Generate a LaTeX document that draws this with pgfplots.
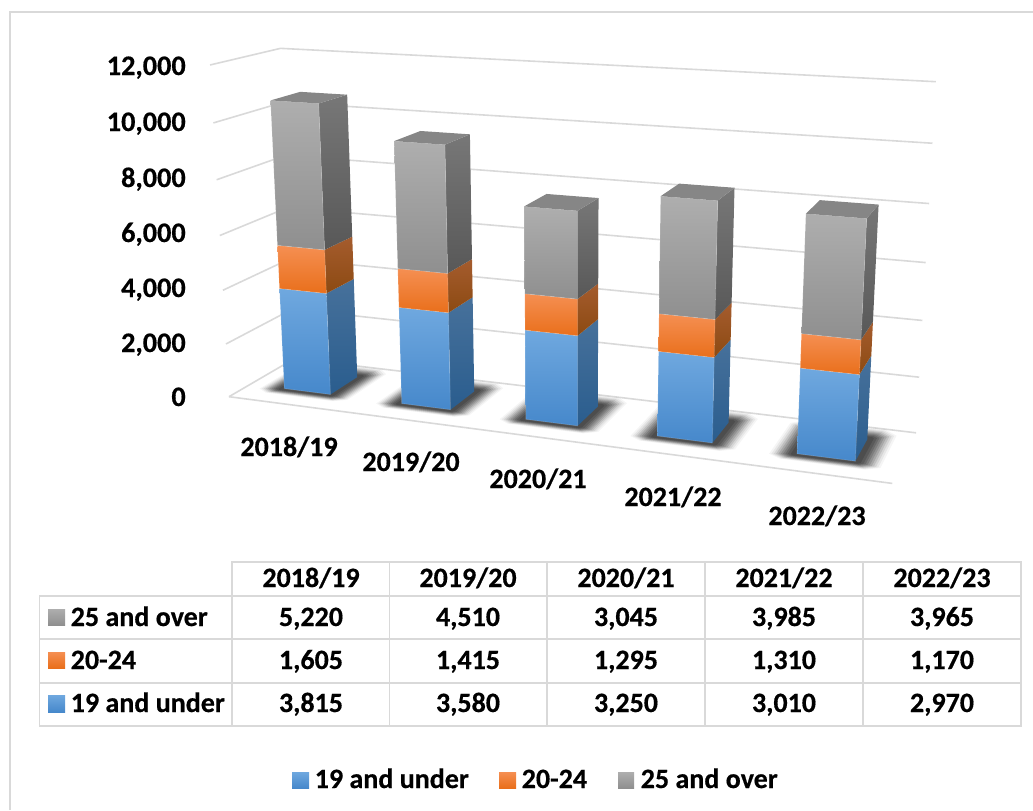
\documentclass[border=0pt]{standalone}
\usepackage{fontspec}
\setmainfont[BoldFeatures={FakeBold=0.5}]{Carlito}
\usepackage{pgfplots}
\pgfplotsset{compat=1.18}
\definecolor{gridc}{HTML}{D9D9D9}
\definecolor{bluetop}{HTML}{6FA8DF}\definecolor{bluemid}{HTML}{5598DA}\definecolor{bluebot}{HTML}{4688CB}
\definecolor{bluest}{HTML}{47719B}\definecolor{bluesb}{HTML}{2A5D8E}
\definecolor{orgtop}{HTML}{F58F52}\definecolor{orgmid}{HTML}{F57F27}\definecolor{orgbot}{HTML}{E96F1B}
\definecolor{orgst}{HTML}{A55C2E}\definecolor{orgsb}{HTML}{8C4A12}
\definecolor{grytop}{HTML}{AEAEAE}\definecolor{grymid}{HTML}{A2A2A2}\definecolor{grybot}{HTML}{8F8F8F}
\definecolor{gryst}{HTML}{777777}\definecolor{grysb}{HTML}{585858}
\definecolor{grytopface}{HTML}{868686}
% Face of a bar segment, from the value lo to the value hi. The projection px, py maps
% (category position 0..1, depth 0..1, value) onto the picture.
\newcommand\faces[5]{% X0 X1 lo hi family(blue/org/gry)
  \addplot[draw=none,forget plot,top color=#5st,bottom color=#5sb] coordinates {
    ({px(#2,0.31,#3)},{py(#2,0.31,#3)}) ({px(#2,0.75,#3)},{py(#2,0.75,#3)})
    ({px(#2,0.75,#4)},{py(#2,0.75,#4)}) ({px(#2,0.31,#4)},{py(#2,0.31,#4)})} --cycle;
  \addplot[draw=white,draw opacity=0.15,line width=0.6pt,forget plot,top color=#5top,middle color=#5mid,bottom color=#5bot] coordinates {
    ({px(#1,0.31,#3)},{py(#1,0.31,#3)}) ({px(#2,0.31,#3)},{py(#2,0.31,#3)})
    ({px(#2,0.31,#4)},{py(#2,0.31,#4)}) ({px(#1,0.31,#4)},{py(#1,0.31,#4)})} --cycle;
}
\newcommand\topface[3]{%
  \addplot[draw=none,forget plot,fill=grytopface] coordinates {
    ({px(#1,0.31,#3)},{py(#1,0.31,#3)}) ({px(#2,0.31,#3)},{py(#2,0.31,#3)})
    ({px(#2,0.75,#3)},{py(#2,0.75,#3)}) ({px(#1,0.75,#3)},{py(#1,0.75,#3)})} --cycle;
}
% one layer of a soft floor shadow: an octagon round the foot of the bar
\newcommand\shlayer[6]{% X0 X1 dx dfront dback opacity
  \addplot[draw=none,forget plot,fill=black,fill opacity=#6] coordinates {
    ({px(#1-0.5*#3,0.31-#4,0)},{py(#1-0.5*#3,0.31-#4,0)})
    ({px(#2+0.5*#3,0.31-#4,0)},{py(#2+0.5*#3,0.31-#4,0)})
    ({px(#2+#3,0.31-0.5*#4,0)},{py(#2+#3,0.31-0.5*#4,0)})
    ({px(#2+#3,0.75+0.6*#5,0)},{py(#2+#3,0.75+0.6*#5,0)})
    ({px(#2+0.5*#3,0.75+#5,0)},{py(#2+0.5*#3,0.75+#5,0)})
    ({px(#1-0.5*#3,0.75+#5,0)},{py(#1-0.5*#3,0.75+#5,0)})
    ({px(#1-#3,0.75+0.6*#5,0)},{py(#1-#3,0.75+0.6*#5,0)})
    ({px(#1-#3,0.31-0.5*#4,0)},{py(#1-#3,0.31-0.5*#4,0)})} --cycle;
}
\newcommand\shadowof[2]{%
  \shlayer{#1}{#2}{0.036}{0.13}{0.24}{0.04}
  \shlayer{#1}{#2}{0.033}{0.12}{0.22}{0.06}
  \shlayer{#1}{#2}{0.030}{0.11}{0.20}{0.08}
  \shlayer{#1}{#2}{0.027}{0.10}{0.18}{0.10}
  \shlayer{#1}{#2}{0.024}{0.09}{0.16}{0.12}
  \shlayer{#1}{#2}{0.021}{0.08}{0.14}{0.13}
  \shlayer{#1}{#2}{0.018}{0.07}{0.12}{0.14}
  \shlayer{#1}{#2}{0.015}{0.06}{0.10}{0.15}
  \shlayer{#1}{#2}{0.012}{0.05}{0.08}{0.15}
  \shlayer{#1}{#2}{0.008}{0.04}{0.06}{0.15}
}
% X0 X1, then the three stacked values as cumulative limits
\newcommand\stackbar[5]{%
  \faces{#1}{#2}{0}{#3}{blue}
  \faces{#1}{#2}{#3}{#4}{org}
  \faces{#1}{#2}{#4}{#5}{gry}
  \topface{#1}{#2}{#5}
}
\newcommand\wall[1]{%
  \addplot[gridc,line width=1.2pt,forget plot] coordinates {
    ({px(0,0,#1)},{py(0,0,#1)}) ({px(0,1,#1)},{py(0,1,#1)}) ({px(1,1,#1)},{py(1,1,#1)})};
}
\begin{document}
\begin{tikzpicture}[
  lab/.style={font=\fontsize{21}{24}\selectfont\bfseries,text=black,inner sep=0pt},
  tk/.style={lab,font=\fontsize{21.2}{24}\selectfont\bfseries,anchor=base east},
  rl/.style={gridc,line width=1.3pt,line cap=rect}]
\begin{axis}[
  width=774.75pt,height=607.5pt,scale only axis,
  xmin=0,xmax=1033,ymin=0,ymax=810,y dir=reverse,hide axis,clip=false,
  declare function={
    px(\X,\Y,\Z)=(229+539.6*\X+86.9*\Y-30.5*\Z/12000-2.4*\X*\Z/12000)/(1-0.1386*\X+0.0725*\Y-0.055*\Z/12000);
    py(\X,\Y,\Z)=(396.7+19.7*\X-12.2*\Y-335.3*\Z/12000+2.9*\X*\Z/12000)/(1-0.1386*\X+0.0725*\Y-0.055*\Z/12000);
  }]
\path[use as bounding box] (axis cs:0,0) rectangle (axis cs:1033,810);
% chart frame
\draw[gridc,line width=1.3pt] (axis cs:10,810) -- (axis cs:10,12) -- (axis cs:1033,12);
% walls and floor
\wall{0}\wall{2000}\wall{4000}\wall{6000}\wall{8000}\wall{10000}\wall{12000}
\addplot[gridc,line width=1.2pt,forget plot] coordinates {
  ({px(0,0,0)},{py(0,0,0)}) ({px(1,0,0)},{py(1,0,0)})};
% shadows
\shadowof{0.06}{0.14}\shadowof{0.26}{0.34}\shadowof{0.46}{0.54}\shadowof{0.66}{0.74}\shadowof{0.86}{0.94}
% bars: 19 and under; + 20-24; + 25 and over
\stackbar{0.06}{0.14}{3815}{5420}{10640}
\stackbar{0.26}{0.34}{3580}{4995}{9505}
\stackbar{0.46}{0.54}{3250}{4545}{7590}
\stackbar{0.66}{0.74}{3010}{4320}{8305}
\stackbar{0.86}{0.94}{2970}{4140}{8105}
% axis labels
\node[tk] at (axis cs:186,75) {12,000};
\node[tk] at (axis cs:186,131) {10,000};
\node[tk] at (axis cs:186,187) {8,000};
\node[tk] at (axis cs:186,242) {6,000};
\node[tk] at (axis cs:186,297) {4,000};
\node[tk] at (axis cs:186,352) {2,000};
\node[tk] at (axis cs:186,406) {0};
\node[lab,anchor=base] at (axis cs:289,456) {2018/19};
\node[lab,anchor=base] at (axis cs:411,471) {2019/20};
\node[lab,anchor=base] at (axis cs:538,488) {2020/21};
\node[lab,anchor=base] at (axis cs:673,506) {2021/22};
\node[lab,anchor=base] at (axis cs:817,525) {2022/23};
% data table
\draw[rl] (axis cs:232,562) -- (axis cs:1021,562);
\draw[rl] (axis cs:39.5,596) -- (axis cs:1021,596);
\draw[rl] (axis cs:39.5,639.3) -- (axis cs:1021,639.3);
\draw[rl] (axis cs:39.5,682.7) -- (axis cs:1021,682.7);
\draw[rl] (axis cs:39.5,725.7) -- (axis cs:1021,725.7);
\draw[rl] (axis cs:39.5,596) -- (axis cs:39.5,725.7);
\draw[rl] (axis cs:232,562) -- (axis cs:232,725.7);
\draw[rl] (axis cs:389.5,562) -- (axis cs:389.5,725.7);
\draw[rl] (axis cs:547,562) -- (axis cs:547,725.7);
\draw[rl] (axis cs:705,562) -- (axis cs:705,725.7);
\draw[rl] (axis cs:863,562) -- (axis cs:863,725.7);
\draw[rl] (axis cs:1021,562) -- (axis cs:1021,725.7);
\node[lab,anchor=base] at (axis cs:311,587) {2018/19};
\node[lab,anchor=base] at (axis cs:468,587) {2019/20};
\node[lab,anchor=base] at (axis cs:626,587) {2020/21};
\node[lab,anchor=base] at (axis cs:784,587) {2021/22};
\node[lab,anchor=base] at (axis cs:942,587) {2022/23};
\node[lab,anchor=base west] at (axis cs:70.5,626) {25 and over};
\node[lab,anchor=base west] at (axis cs:70.5,669) {20-24};
\node[lab,anchor=base west] at (axis cs:70.5,712) {19 and under};
\node[lab,anchor=base] at (axis cs:311,626) {5,220};
\node[lab,anchor=base] at (axis cs:468,626) {4,510};
\node[lab,anchor=base] at (axis cs:626,626) {3,045};
\node[lab,anchor=base] at (axis cs:784,626) {3,985};
\node[lab,anchor=base] at (axis cs:942,626) {3,965};
\node[lab,anchor=base] at (axis cs:311,669) {1,605};
\node[lab,anchor=base] at (axis cs:468,669) {1,415};
\node[lab,anchor=base] at (axis cs:626,669) {1,295};
\node[lab,anchor=base] at (axis cs:784,669) {1,310};
\node[lab,anchor=base] at (axis cs:942,669) {1,170};
\node[lab,anchor=base] at (axis cs:311,712) {3,815};
\node[lab,anchor=base] at (axis cs:468,712) {3,580};
\node[lab,anchor=base] at (axis cs:626,712) {3,250};
\node[lab,anchor=base] at (axis cs:784,712) {3,010};
\node[lab,anchor=base] at (axis cs:942,712) {2,970};
\path[top color=grytop,bottom color=grybot] (axis cs:48,609) rectangle (axis cs:65,625);
\path[top color=orgtop,bottom color=orgbot] (axis cs:48,652) rectangle (axis cs:65,668);
\path[top color=bluetop,bottom color=bluebot] (axis cs:48,695) rectangle (axis cs:65,712);
% legend
\path[top color=bluetop,bottom color=bluebot] (axis cs:292,772) rectangle (axis cs:309,788);
\node[lab,anchor=base west] at (axis cs:314.5,788) {19 and under};
\path[top color=orgtop,bottom color=orgbot] (axis cs:499,772) rectangle (axis cs:516,788);
\node[lab,anchor=base west] at (axis cs:521.5,788) {20-24};
\path[top color=grytop,bottom color=grybot] (axis cs:618,772) rectangle (axis cs:634,788);
\node[lab,anchor=base west] at (axis cs:640.5,788) {25 and over};
\end{axis}
\end{tikzpicture}
\end{document}
